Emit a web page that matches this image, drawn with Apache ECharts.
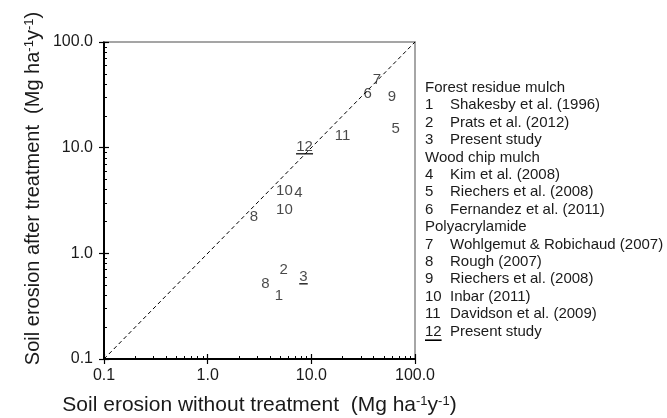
<!DOCTYPE html>
<html>
<head>
<meta charset="utf-8">
<script src="https://cdn.jsdelivr.net/npm/echarts@6/dist/echarts.min.js"></script>
<style>
html,body{margin:0;padding:0;background:#fff;}
#c{width:667px;height:418px;}
</style>
</head>
<body>
<div id="c"></div>
<script>
// ---- data ----
var pointLabels = ['1', '2', '3', '4', '5', '6', '7', '8', '8', '9', '10', '10', '11', '12'];
var withoutTreatment = [4.86, 5.4, 8.4, 7.5, 65, 35, 43, 2.8, 3.6, 60, 5.5, 5.5, 20, 8.6];
var afterTreatment   = [0.40, 0.70, 0.60, 3.7, 15.2, 32, 44, 2.2, 0.51, 30, 3.9, 2.6, 12.9, 10.2];
var underlinedLabels = [false, false, true, false, false, false, false, false, false, false, false, false, false, true];
var oneToOne = [0.1, 100];
var legendGroups = ['Forest residue mulch', 'Wood chip mulch', 'Polyacrylamide'];
var legendNumbers = ['1','2','3','4','5','6','7','8','9','10','11','12'];
var legendNames = ['Shakesby et al. (1996)', 'Prats et al. (2012)', 'Present study',
  'Kim et al. (2008)', 'Riechers et al. (2008)', 'Fernandez et al. (2011)',
  'Wohlgemut & Robichaud (2007)', 'Rough (2007)', 'Riechers et al. (2008)', 'Inbar (2011)',
  'Davidson et al. (2009)', 'Present study'];
var legendGroupOf = [0,0,0,1,1,1,2,2,2,2,2,2];
var legendUnderlined = [false,false,false,false,false,false,false,false,false,false,false,true];

// ---- layout ----
var FONT = '"Liberation Sans", Arial, Helvetica, sans-serif';
var TXT = '#1a1a1a';
var G = {left: 104, right: 252, top: 42, bottom: 59};
var W = 667, H = 418;
var gridW = W - G.left - G.right, gridH = H - G.top - G.bottom;

var chart = echarts.init(document.getElementById('c'), null, {renderer: 'canvas'});

var scatterData = pointLabels.map(function (l, i) {
  return {name: l, value: [withoutTreatment[i], afterTreatment[i]]};
});
var underlineData = [];
pointLabels.forEach(function (l, i) {
  if (underlinedLabels[i]) {
    underlineData.push({value: [withoutTreatment[i], afterTreatment[i]], symbolSize: [l.length * 8.5, 1.6]});
  }
});

function tickFmt(v) { return v < 0.5 ? '0.1' : Number(v).toFixed(1); }

function logAxis(extra) {
  var a = {type: 'log', logBase: 10, min: 0.1, max: 100, splitLine: {show: false}, minorTick: {show: false}};
  for (var k in extra) a[k] = extra[k];
  return a;
}
function mainAxis(pos, extra) {
  var a = logAxis({position: pos,
    axisLine: {show: true, onZero: false, lineStyle: {color: '#000', width: 2}},
    axisTick: {show: true, inside: false, length: 5, lineStyle: {color: '#000', width: 1.2}}});
  for (var k in extra) a[k] = extra[k];
  return a;
}
// an axis on the opposite side, shifted onto the main axis, so its outward ticks point into the plot
function innerTickAxis(pos, off) {
  return logAxis({position: pos, offset: off,
    axisLine: {show: true, onZero: false, lineStyle: {color: 'rgba(0,0,0,0)', width: 1}},
    axisTick: {show: true, inside: false, length: 5, lineStyle: {color: '#000', width: 1.2}},
    minorTick: {show: true, splitNumber: 9, length: 3, lineStyle: {color: '#000', width: 1}},
    axisLabel: {show: false}});
}
function frameAxis(pos) {
  return logAxis({position: pos, axisLine: {show: true, onZero: false, lineStyle: {color: '#888', width: 1.5}},
    axisTick: {show: false}, axisLabel: {show: false}});
}

var supRich = {s: {fontSize: 13, fontFamily: FONT, color: TXT, verticalAlign: 'top', lineHeight: 12}};

// legend graphics
var graphics = [];
var lx = 425, lx2 = 450, ly = 88.3, lstep = 17.4, row = 0, lastGroup = -1;
legendNumbers.forEach(function (n, i) {
  if (legendGroupOf[i] !== lastGroup) {
    lastGroup = legendGroupOf[i];
    graphics.push({type: 'text', left: lx, top: ly + row * lstep - 8,
      style: {text: legendGroups[lastGroup], font: '15px ' + FONT, fill: TXT}});
    row++;
  }
  graphics.push({type: 'text', left: lx, top: ly + row * lstep - 8,
    style: {text: n, font: '15px ' + FONT, fill: TXT}});
  if (legendUnderlined[i]) {
    graphics.push({type: 'rect', left: lx, top: ly + row * lstep + 7.5,
      shape: {width: n.length * 8.3, height: 1.6}, style: {fill: '#000'}});
  }
  graphics.push({type: 'text', left: lx2, top: ly + row * lstep - 8,
    style: {text: legendNames[i], font: '15px ' + FONT, fill: TXT}});
  row++;
});

var option = {
  backgroundColor: '#fff',
  animation: false,
  grid: {left: G.left, right: G.right, top: G.top, bottom: G.bottom, containLabel: false, outerBoundsMode: 'none'},
  xAxis: [
    mainAxis('bottom', {
      axisLabel: {show: true, formatter: tickFmt, fontSize: 16, fontFamily: FONT, color: TXT, margin: 9},
      name: 'Soil erosion without treatment  (Mg ha{s|-1}y{s|-1})', nameLocation: 'middle', nameGap: 36,
      nameTextStyle: {fontSize: 21, fontFamily: FONT, color: TXT, padding: [0, 0, 0, 0], rich: supRich}}),
    innerTickAxis('top', -gridH),
    frameAxis('top')
  ],
  yAxis: [
    mainAxis('left', {
      axisLabel: {show: true, formatter: tickFmt, fontSize: 16, fontFamily: FONT, color: TXT, margin: 11},
      name: 'Soil erosion after treatment  (Mg ha{s|-1}y{s|-1})', nameLocation: 'middle', nameGap: 61, nameRotate: 90,
      nameTextStyle: {fontSize: 20, fontFamily: FONT, color: TXT, padding: [0, 0, 0, 24], rich: supRich}}),
    innerTickAxis('right', -gridW),
    frameAxis('right')
  ],
  series: [
    {type: 'line', xAxisIndex: 0, yAxisIndex: 0, symbol: 'none', silent: true,
      data: [[oneToOne[0], oneToOne[0]], [oneToOne[1], oneToOne[1]]],
      lineStyle: {color: '#000', width: 1, type: [4, 3]}},
    {type: 'scatter', xAxisIndex: 0, yAxisIndex: 0, symbol: 'circle', symbolSize: 0.1,
      itemStyle: {color: '#fff'}, data: scatterData,
      label: {show: true, position: 'inside', formatter: '{b}', fontSize: 15, fontFamily: FONT, color: TXT}},
    {type: 'scatter', xAxisIndex: 0, yAxisIndex: 0, symbol: 'rect', symbolOffset: [0, 7],
      itemStyle: {color: '#000'}, data: underlineData}
  ],
  graphic: graphics
};
chart.setOption(option);
</script>
</body>
</html>
